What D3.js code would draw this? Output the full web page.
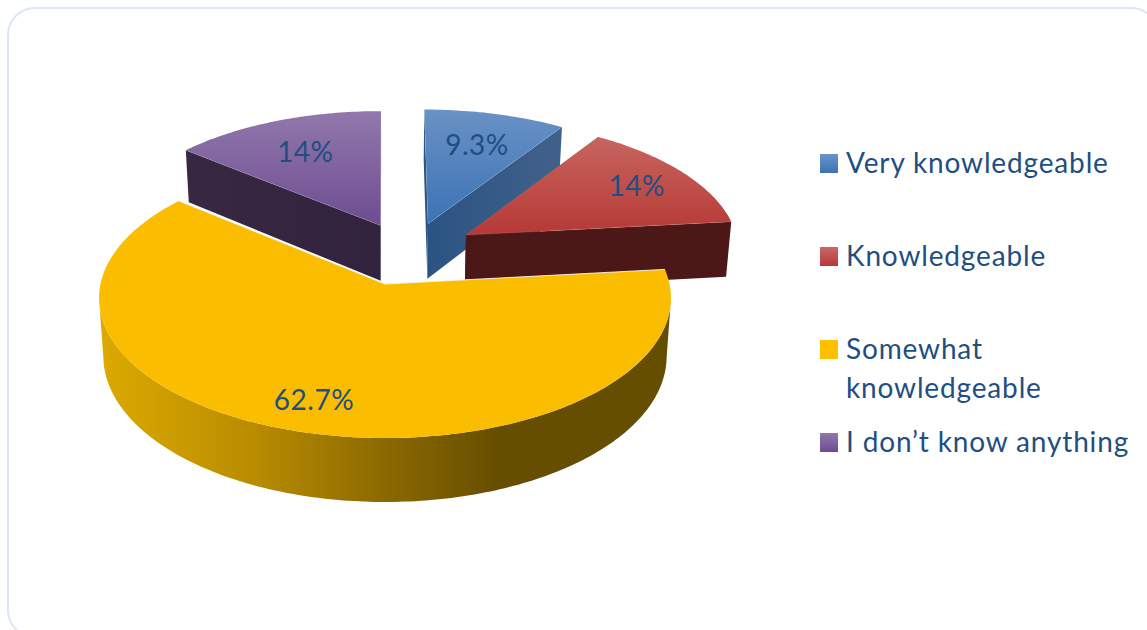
<!DOCTYPE html>
<html><head><meta charset="utf-8">
<script src="https://cdnjs.cloudflare.com/ajax/libs/d3/7.9.0/d3.min.js"></script>
<style>html,body{margin:0;padding:0;background:#fff;overflow:hidden}svg{display:block}</style>
</head><body><svg id="c" width="1147" height="630"></svg>
<script>
const categories = ["Very knowledgeable","Knowledgeable","Somewhat knowledgeable","I don\u2019t know anything"];
const values = [9.3,14,62.7,14];
const valueLabels = ["9.3%","14%","62.7%","14%"];
const legendLines = [["Very knowledgeable"],["Knowledgeable"],["Somewhat","knowledgeable"],["I don\u2019t know anything"]];

// styling
const topColors = [["#6992c6","#3c72b4"],["#c7655f","#b63936"],["#fbbd00","#fbbd00"],["#9178ab","#6d4c92"]];
const wallColors = [["#2a5383","#41618a"],["#4c1817","#4c1817"],[],["#38273f","#32233f"]];
const legendColors = [["#6b93c7","#3c72b4"],["#c9686a","#b83735"],["#ffc000","#ffc000"],["#9178ab","#6d4c92"]];
const textColor = "#1f4e82";
const font = "Lato, Carlito, Calibri, sans-serif";

// perspective model of the disc
const cx = 385, cy = 284, R = 284.5, Ry = 138.6, k = 0.1, depth = 57.6, bottomShrink = 0.985;
const explodeX = [0.158,0.295,0,-0.016], explodeY = [0.455,0.366,0,0.44];
const sliceRadius = [0.985,0.985,1,0.985];
const labelRadius = [0.7,0.77,0.8,0.69];
const paintOrder = [3,0,1,2];

const project = (X,Y,low) => {
  const w = 1 + k*Y;
  let sx = cx + R*X/w, sy = cy - Ry*Y/w;
  if (low) { sx = cx + (sx-cx)*bottomShrink; sy += depth/w; }
  return [sx,sy];
};

const svg = d3.select("#c");
const defs = svg.append("defs");
const grad = (id,x1,y1,x2,y2,stops) => {
  const g = defs.append("linearGradient").attr("id",id).attr("gradientUnits","userSpaceOnUse")
    .attr("x1",x1).attr("y1",y1).attr("x2",x2).attr("y2",y2);
  stops.forEach(([o,c]) => g.append("stop").attr("offset",o).attr("stop-color",c));
  return `url(#${id})`;
};

svg.append("rect").attr("x",8).attr("y",8).attr("width",1150).attr("height",629).attr("rx",27)
  .attr("fill","#fff").attr("stroke","#dce7f3").attr("stroke-width",2);

const arcs = d3.pie().sort(null).value(d=>d)(values);
const line = d3.line();
const rimAngles = a => { const n = Math.max(4,Math.ceil((a.endAngle-a.startAngle)*60));
  return d3.range(n+1).map(i => a.startAngle + (a.endAngle-a.startAngle)*i/n); };

paintOrder.forEach(i => {
  const a = arcs[i], ax = explodeX[i], ay = explodeY[i], r = sliceRadius[i];
  const rim = (t,low) => project(ax+r*Math.sin(t),ay+r*Math.cos(t),low);
  const ts = rimAngles(a);
  const apex = project(ax,ay,false);
  const topPts = [apex,...ts.map(t=>rim(t,false))];
  const ys = topPts.map(p=>p[1]), xs = topPts.map(p=>p[0]);
  const g = svg.append("g");

  let wallFill;
  if (i === 2) {
    wallFill = grad("wall2",100,0,671,0,[[0,"#dcaa00"],[0.27,"#b98c00"],[0.5,"#8b6900"],[0.7,"#664e00"],[1,"#664e00"]]);
  } else {
    wallFill = grad("wall"+i,d3.min(xs),0,d3.max(xs),0,[[0,wallColors[i][0]],[1,wallColors[i][1]]]);
  }
  // side faces
  const face = (t) => [apex,rim(t,false),rim(t,true),project(ax,ay,true)];
  g.append("path").attr("d",line(face(a.startAngle))+"Z").attr("fill",wallFill);
  g.append("path").attr("d",line(face(a.endAngle))+"Z").attr("fill",wallFill);
  // outer rim: only the part of the circle that faces the viewer
  const front = ts.filter(t => Math.cos(t) <= -k);
  if (front.length > 1) {
    const rimWall = [...front.map(t=>rim(t,false)),...front.slice().reverse().map(t=>rim(t,true))];
    g.append("path").attr("d",line(rimWall)+"Z").attr("fill",wallFill);
  }
  // top
  const topFill = grad("top"+i,0,d3.min(ys),0,d3.max(ys),[[0,topColors[i][0]],[1,topColors[i][1]]]);
  g.append("path").attr("d",line(topPts)+"Z").attr("fill",topFill);
  // thin highlight on the cut edges
  g.append("path").attr("d",line([rim(a.startAngle,false),apex,rim(a.endAngle,false)]))
    .attr("fill","none").attr("stroke","#fff").attr("stroke-opacity",i===2?0.85:0.2).attr("stroke-width",i===2?1:0.6);
});

// value labels
arcs.forEach((a,i) => {
  const t = (a.startAngle+a.endAngle)/2;
  const [x,y] = project(explodeX[i]+labelRadius[i]*Math.sin(t),explodeY[i]+labelRadius[i]*Math.cos(t),false);
  svg.append("text").attr("x",x).attr("y",y).attr("text-anchor","middle").attr("dominant-baseline","central")
    .attr("font-family",font).attr("font-size",28).attr("letter-spacing",0.5).attr("fill",textColor).text(valueLabels[i]);
});

// legend
const legendY = d3.scaleLinear().domain([0,3]).range([173,452]);
legendLines.forEach((lines,i) => {
  const y = legendY(i);
  const fill = grad("leg"+i,0,y-19,0,y,[[0,legendColors[i][0]],[1,legendColors[i][1]]]);
  svg.append("rect").attr("x",820).attr("y",y-19).attr("width",18).attr("height",19).attr("fill",fill);
  lines.forEach((l,j) => svg.append("text").attr("x",846).attr("y",y+j*39)
    .attr("font-family",font).attr("font-size",28).attr("letter-spacing",0.85).attr("fill",textColor).text(l));
});
</script></body></html>
